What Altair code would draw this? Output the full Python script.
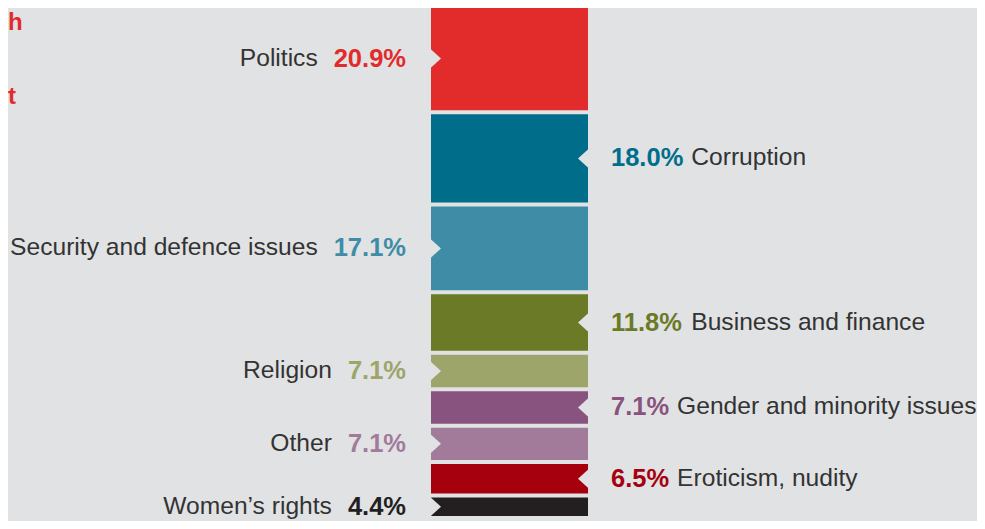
import altair as alt
import pandas as pd

# ---- data ----
topics = ["Politics", "Corruption", "Security and defence issues", "Business and finance",
          "Religion", "Gender and minority issues", "Other", "Eroticism, nudity", "Women’s rights"]
shares = [20.9, 18.0, 17.1, 11.8, 7.1, 7.1, 7.1, 6.5, 4.4]
bar_colors = ["#E22B2B", "#006D8A", "#3F8CA6", "#6B7A26", "#9EA56A",
              "#88537E", "#A27B9B", "#A6000F", "#231F20"]
label_sides = ["left", "right", "left", "right", "left", "right", "left", "right", "left"]
title_fragments = ["h", "t"]

# ---- style / layout (chart coordinates; page has an 8px margin) ----
BG = "#E1E2E4"
W, H = 969, 513
BAR_LEFT, BAR_PX = 423, 157
TOP_PX, BOTTOM_PX = -3, 510
FONT = "Liberation Sans"
FS_NAME = 24.6
FS_VAL = 25.5
NAME_COLOR = "#333333"

df = pd.DataFrame({"topic": topics, "share": shares, "color": bar_colors,
                   "side": label_sides, "order": list(range(len(topics)))})

xscale = alt.Scale(domain=[-BAR_LEFT / BAR_PX, (W - BAR_LEFT) / BAR_PX], nice=False, zero=False)
u = 100.0 / (BOTTOM_PX - TOP_PX)
yscale = alt.Scale(domain=[-TOP_PX * u, 100 + (H - BOTTOM_PX) * u], reverse=True, nice=False, zero=False)

digit_w = 0.556 * FS_VAL
fixed_w = (0.278 + 0.889) * FS_VAL

base = (alt.Chart(df)
        .transform_window(cum="sum(share)", sort=[alt.SortField("order")], frame=[None, 0])
        .transform_calculate(start="datum.cum - datum.share")
        .transform_calculate(mid="datum.cum - datum.share / 2")
        .transform_calculate(pct="format(datum.share, '.1f') + '%'")
        .transform_calculate(w=f"(length(datum.pct) - 2) * {digit_w} + {fixed_w}"))

bars = base.mark_rect(yOffset=2, y2Offset=-2).encode(
    x=alt.XDatum(0, scale=xscale, axis=None),
    x2=alt.X2Datum(1),
    y=alt.Y("start:Q", scale=yscale, axis=None),
    y2="cum:Q",
    color=alt.Color("color:N", scale=None),
)

left = base.transform_filter("datum.side == 'left'")
right = base.transform_filter("datum.side == 'right'")

notch_l = left.mark_point(shape="M-0.1,-1L1,0L-0.1,1Z", filled=True, size=400,
                          color=BG, opacity=1, strokeWidth=0).encode(
    x=alt.XDatum(0), y="mid:Q")
notch_r = right.mark_point(shape="M0.1,-1L-1,0L0.1,1Z", filled=True, size=400,
                           color=BG, opacity=1, strokeWidth=0).encode(
    x=alt.XDatum(1), y="mid:Q")

val_l = left.mark_text(align="right", baseline="middle", dx=-25, font=FONT, fontSize=FS_VAL,
                       fontWeight="bold").encode(
    x=alt.XDatum(0), y="mid:Q", text="pct:N", color=alt.Color("color:N", scale=None))
name_l = left.transform_calculate(nx=f"-(datum.w + 16) / {BAR_PX}").mark_text(
    align="right", baseline="middle", dx=-25, font=FONT, fontSize=FS_NAME, color=NAME_COLOR).encode(
    x="nx:Q", y="mid:Q", text="topic:N")

val_r = right.mark_text(align="left", baseline="middle", dx=23, font=FONT, fontSize=FS_VAL,
                        fontWeight="bold").encode(
    x=alt.XDatum(1), y="mid:Q", text="pct:N", color=alt.Color("color:N", scale=None))
name_r = right.transform_calculate(nx=f"1 + (datum.w + 8) / {BAR_PX}").mark_text(
    align="left", baseline="middle", dx=23, font=FONT, fontSize=FS_NAME, color=NAME_COLOR).encode(
    x="nx:Q", y="mid:Q", text="topic:N")

frag1 = alt.Chart(pd.DataFrame({"t": [title_fragments[0]]})).mark_text(
    align="left", baseline="alphabetic", font=FONT, fontSize=24, fontWeight="bold",
    color="#E22B2B").encode(text="t:N", x=alt.value(0), y=alt.value(22))
frag2 = alt.Chart(pd.DataFrame({"t": [title_fragments[1]]})).mark_text(
    align="left", baseline="alphabetic", font=FONT, fontSize=24, fontWeight="bold",
    color="#E22B2B").encode(text="t:N", x=alt.value(0), y=alt.value(96))

chart = alt.layer(bars, notch_l, notch_r, val_l, name_l, val_r, name_r, frag1, frag2).properties(
    width=W, height=H, padding=0, background=BG,
    autosize=alt.AutoSizeParams(type="none"),
).configure_view(strokeWidth=0)

chart.save("out.html", embed_options={"renderer": "svg", "actions": False})
